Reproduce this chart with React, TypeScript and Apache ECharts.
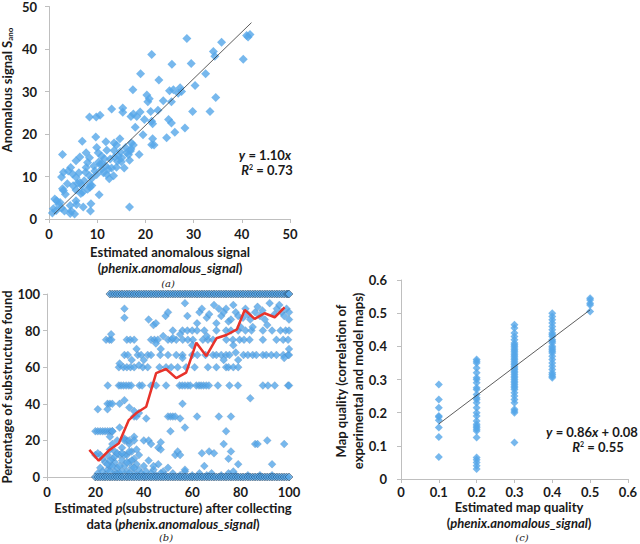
import React, { useEffect, useRef } from "react";
import * as echarts from "echarts";

// Panel (a): estimated vs measured anomalous signal
const aPoints: [number, number][] = [
  [28.6, 42.5], [21.3, 38.7], [35.8, 41.6], [34.1, 39.4], [34.4, 38.3], [41.0, 43.2], [41.7, 43.4], [41.3, 42.8],
  [40.3, 37.6], [34.6, 28.6], [33.4, 25.3], [29.8, 25.3], [29.5, 36.6], [25.5, 36.4], [19.0, 34.2], [22.8, 32.7],
  [32.5, 34.2], [30.3, 31.4], [27.2, 30.9], [25.8, 30.4], [25.0, 30.2], [27.5, 30.0], [17.4, 30.4], [20.3, 29.2],
  [20.8, 28.3], [20.5, 27.6], [23.7, 27.8], [25.4, 27.6], [13.0, 25.9], [15.3, 26.1], [15.3, 25.1], [21.1, 25.3],
  [17.5, 24.7], [17.0, 24.1], [18.2, 24.1], [18.9, 25.2], [19.8, 23.4], [21.3, 23.0], [21.5, 22.4], [8.4, 24.0],
  [9.8, 24.0], [10.6, 24.4], [24.8, 23.4], [25.4, 22.6], [26.1, 20.4], [28.2, 21.4], [17.9, 21.6], [24.4, 19.1],
  [21.5, 18.9], [21.3, 17.5], [21.8, 17.4], [14.7, 18.9], [13.5, 17.9], [14.0, 17.4], [17.1, 17.9], [17.0, 16.5],
  [15.9, 16.8], [16.1, 15.6], [6.9, 18.3], [9.7, 19.3], [11.8, 18.2], [13.5, 16.1], [18.7, 15.2], [16.5, 15.1],
  [16.7, 13.8], [16.9, 16.0], [2.8, 15.2], [14.4, 14.8], [15.1, 14.4], [12.7, 14.1], [14.2, 13.6], [11.8, 12.5],
  [6.4, 14.6], [8.4, 14.4], [8.0, 13.3], [9.9, 16.8], [10.2, 15.6], [10.9, 14.8], [7.7, 15.6], [5.6, 13.7],
  [7.7, 12.1], [9.3, 12.5], [10.6, 12.9], [10.9, 11.7], [11.3, 10.9], [12.0, 10.5], [12.3, 11.7], [9.5, 11.3],
  [9.9, 10.5], [8.4, 10.2], [8.9, 9.6], [4.5, 12.1], [4.0, 11.3], [3.0, 11.0], [2.6, 9.9], [4.9, 10.6],
  [5.6, 9.8], [6.4, 8.6], [7.3, 9.0], [5.9, 8.4], [5.0, 7.8], [5.6, 6.8], [2.8, 7.1], [3.0, 6.7], [7.0, 6.3],
  [8.5, 7.5], [8.9, 7.9], [10.4, 5.7], [8.5, 8.1], [6.8, 7.8], [1.2, 4.7], [1.6, 4.3], [2.3, 3.9], [2.0, 3.5],
  [0.9, 2.4], [1.5, 2.0], [0.7, 1.4], [2.6, 2.6], [5.6, 4.3], [4.6, 1.9], [4.4, 1.3], [5.3, 1.2], [5.7, 3.4],
  [7.1, 2.8], [8.6, 1.9], [8.7, 3.6], [16.7, 2.8], [11.0, 13.0], [12.5, 9.5], [13.4, 10.2], [14.0, 12.2],
  [15.0, 13.5], [13.0, 12.0], [11.5, 14.2], [10.3, 13.4], [12.0, 16.2], [14.8, 15.8], [15.6, 12.0], [13.6, 14.6],
  [3.4, 5.8], [3.8, 8.3], [6.2, 10.9], [7.6, 11.0], [8.0, 7.0], [6.6, 6.0], [4.4, 3.2], [3.2, 1.9], [17.5, 17.4],
  [19.5, 19.8], [22.6, 25.6], [26.8, 29.6]
];
const aFitX = [1, 42];
const aSlope = 1.1;

// Panel (b): estimated p(substructure) vs percentage found
const b100X = [26, 27, 28, 29, 30, 31, 32, 33, 34, 35, 36, 37, 38, 39, 40, 41, 42, 43, 44, 45, 46, 47, 48, 49, 50,
  51, 52, 53, 54, 55, 56, 57, 58, 59, 60, 61, 62, 63, 64, 65, 66, 67, 68, 69, 70, 71, 72, 73, 74, 75, 76, 77, 78,
  79, 80, 81, 82, 83, 84, 85, 86, 87, 88, 89, 90, 91, 92, 93, 94, 95, 96, 97, 98, 99, 99.5, 100];
const b0X = [20, 21, 22, 23, 24, 25, 26, 27, 28, 29, 30, 31, 32, 33, 34, 35, 36, 37, 38, 39, 40, 41, 42, 43, 44, 45,
  46, 47, 48, 49, 50, 51, 52, 53, 54, 55, 56, 57, 58, 59, 60, 61, 62, 63, 64, 65, 66, 67, 68, 69, 70, 71, 72, 73,
  74, 75, 76, 77, 78, 79, 80, 81, 82, 83, 84, 85, 86, 87, 88, 89, 90, 91, 92, 93, 94, 95, 96, 97, 98, 99, 100];
const b50X = [25.1, 29.7, 30.6, 31.6, 32.7, 33.8, 34.8, 38.2, 39.3, 43.0, 45.1, 49.2, 54.8, 55.9, 57.0, 58.2, 59.2,
  61.7, 62.8, 63.7, 64.7, 65.8, 66.9, 70.6, 75.4, 78.9, 89.2, 91.3, 94.1, 99.6, 100];
const b67X = [32, 33.4, 37.5, 38.9, 41.6, 43, 46.8, 50, 53.4, 56, 60, 62.1, 65.5, 68.6, 70, 72, 74, 75.4, 81.2, 83,
  85, 86.5, 89.2, 90.6, 92.7, 94.8, 97.6, 99.6, 100];
const b75X = [24.4, 25.8, 26.6, 33, 34.4, 43, 44.4, 45.8, 50, 51.5, 53.4, 56.1, 58.2, 60.3, 64.4, 66.5, 68.6, 74.1,
  76.8, 79.6, 81.4, 83.7, 89.2, 94.8, 97.6, 99.6];
const b80X = [52, 56, 58, 60, 65, 70, 74, 76, 79, 82, 84.5, 89.2, 93, 96.5, 98.6, 100];
const b60X = [29.7, 31.6, 33, 34.5, 36, 39.6, 41.6, 46.5, 49.2, 51.3, 54, 57.5, 61, 66.5, 70, 74, 75, 77, 79];
const b25X = [20, 21, 22, 23, 24, 25, 26, 27, 51, 74];
const bOther: [number, number][] = [
  [21, 2], [22, 5], [23, 3], [24, 8], [25, 12], [25, 4], [26, 15], [26, 6], [27, 10], [27, 18], [28, 3], [28, 8],
  [28, 14], [29, 20], [29, 5], [30, 12], [30, 2], [31, 9], [31, 16], [32, 6], [32, 21], [33, 3], [33, 12], [34, 8],
  [34, 18], [35, 5], [35, 14], [36, 2], [36, 10], [37, 7], [38, 4], [38, 12], [39, 2], [40, 6], [42, 9], [44, 4],
  [46, 7], [48, 3], [50, 5], [26, 22], [27, 25], [30, 27], [33, 20], [36, 22], [28, 1], [29, 1.5], [26, 3], [27, 6],
  [30, 6], [31, 3], [32, 12], [34, 2], [35, 9], [37, 1], [24, 1], [25, 7], [23, 10], [22, 12], [21, 13], [20, 12],
  [26, 9], [28, 11], [29, 13], [31, 13], [33, 8], [34, 14], [36, 5], [37, 15], [40, 1], [41, 3], [43, 2], [45, 1],
  [47, 2], [49, 1], [52, 2], [55, 1], [57, 3], [60, 1], [63, 2], [66, 1], [68, 2], [72, 1], [75, 2], [78, 1],
  [83, 1], [88, 1], [32, 20], [34, 20], [36, 20], [40, 20], [42, 20], [47, 19], [86, 18], [87, 18], [91, 20],
  [98, 18], [36, 33], [37, 33], [41, 32], [50, 33], [51, 33], [52, 33], [53, 33], [55, 32], [62, 33], [71, 33],
  [76, 33], [25, 40], [26, 40], [27, 40], [30, 40], [56, 40], [21, 37], [25, 37], [32, 42], [34, 38], [36, 36],
  [38, 35], [44, 6], [43, 18], [46, 16], [47, 15], [53, 12], [54, 14], [55, 12], [57, 27], [57, 4], [64, 13],
  [65, 6], [67, 14], [69, 13], [73, 18], [75, 10], [76, 14], [77, 3], [79, 7], [84, 43], [93, 7], [93, 1],
  [26.5, 78], [30, 62], [32, 92], [32, 87], [36, 75], [37, 70], [42, 86], [44, 83], [45, 84], [47, 70], [49, 88],
  [50, 90], [52, 76], [55, 78], [57, 95], [58, 88], [60, 72], [62, 84], [63, 90], [64, 92], [66, 87], [67, 89],
  [69, 94], [70, 84], [71, 92], [72, 88], [73, 90], [74, 92], [75, 85], [76, 86], [77, 94], [78, 90], [79, 88],
  [80, 82], [81, 87], [82, 92], [83, 89], [84, 86], [85, 82], [86, 90], [87, 93], [88, 88], [89, 91], [90, 86],
  [91, 83], [92, 95], [94, 89], [95, 92], [96, 94], [97, 90], [98, 88], [99, 92], [100, 90], [100, 86], [100, 70],
  [98, 65], [77, 72], [78, 68], [79, 64], [73, 64], [66, 77], [62, 80], [56, 65], [48, 77], [45, 73], [40, 64],
  [38, 61], [35, 64]
];
const bMeanX = [17.5, 21.4, 25.8, 29.7, 33.8, 36.8, 41.0, 45.1, 49.2, 53.4, 57.5, 61.7, 65.8, 70.0, 74.1, 78.5,
  81.7, 85.8, 89.9, 94.1, 98.2];
const bMeanY = [14.8, 8.9, 14.8, 18.4, 31.1, 34.8, 38.4, 56.8, 59.0, 54.0, 57.0, 73.4, 66.1, 75.8, 77.6, 80.7,
  91.3, 86.4, 89.5, 87.3, 92.7];

// Panel (c): estimated vs actual map quality
const cY01 = [0.285, 0.24, 0.215, 0.19, 0.187, 0.177, 0.155, 0.127, 0.066];
const cY02 = [0.36, 0.355, 0.35, 0.335, 0.32, 0.305, 0.3, 0.29, 0.275, 0.27, 0.255, 0.245, 0.24, 0.23, 0.215, 0.2,
  0.19, 0.175, 0.165, 0.16, 0.155, 0.15, 0.145, 0.125, 0.065, 0.058, 0.05, 0.04, 0.03];
const cY03 = [0.465, 0.455, 0.44, 0.43, 0.42, 0.41, 0.405, 0.4, 0.395, 0.39, 0.385, 0.38, 0.375, 0.37, 0.365, 0.36,
  0.355, 0.35, 0.345, 0.34, 0.335, 0.33, 0.325, 0.32, 0.315, 0.31, 0.305, 0.3, 0.295, 0.29, 0.285, 0.28, 0.275,
  0.27, 0.26, 0.25, 0.24, 0.23, 0.21, 0.205, 0.2, 0.11];
const cY04 = [0.5, 0.49, 0.48, 0.47, 0.46, 0.45, 0.44, 0.435, 0.43, 0.42, 0.415, 0.41, 0.4, 0.395, 0.39, 0.385,
  0.38, 0.37, 0.36, 0.35, 0.34, 0.33, 0.32, 0.315, 0.31, 0.305];
const cY05 = [0.545, 0.54, 0.53, 0.525, 0.505];
const cFitX = [0.1, 0.5];
const cSlope = 0.86;
const cIntercept = 0.08;

const BLUE = "#55a6e8";
const FONT = "Lato, 'Open Sans', sans-serif";
const INK = "#1a1a1a";

export default function App() {
  const ref = useRef<HTMLDivElement>(null);
  useEffect(() => {
    if (!ref.current) return;
    const chart = echarts.init(ref.current, undefined, { renderer: "svg" });

    const axisCommon = (min: number, max: number, interval: number, gridIndex: number, margin = 8) => ({
      type: "value" as const,
      gridIndex,
      min,
      max,
      interval,
      splitLine: { show: false },
      axisLine: { show: true, lineStyle: { color: "#bfbfbf", width: 1 } },
      axisTick: { show: true, length: 4, lineStyle: { color: "#bfbfbf" } },
      axisLabel: { fontFamily: FONT, fontWeight: "bold" as const, fontSize: 13, color: INK, margin },
    });

    const bRows: [number, number][] = [
      ...b100X.map((x) => [x, 100] as [number, number]),
      ...b0X.map((x) => [x, 0] as [number, number]),
    ];
    const bScatter: [number, number][] = [
      ...b50X.map((x) => [x, 50] as [number, number]),
      ...b67X.map((x) => [x, 66.7] as [number, number]),
      ...b75X.map((x) => [x, 75] as [number, number]),
      ...b80X.map((x) => [x, 80] as [number, number]),
      ...b60X.map((x) => [x, 60] as [number, number]),
      ...b25X.map((x) => [x, 25] as [number, number]),
      ...bOther,
    ];
    const cScatter: [number, number][] = [
      ...cY01.map((y) => [0.1, y] as [number, number]),
      ...cY02.map((y) => [0.2, y] as [number, number]),
      ...cY03.map((y) => [0.3, y] as [number, number]),
      ...cY04.map((y) => [0.4, y] as [number, number]),
      ...cY05.map((y) => [0.5, y] as [number, number]),
    ];

    const txt = (x: number, y: number, text: string, extra: any = {}, styleExtra: any = {}) => ({
      type: "text",
      x,
      y,
      ...extra,
      style: {
        text,
        fill: INK,
        fontFamily: FONT,
        fontWeight: "bold",
        fontSize: 13,
        textAlign: "center",
        textVerticalAlign: "middle",
        ...styleExtra,
      },
    });
    const rich = {
      i: { fontFamily: FONT, fontWeight: "bold", fontStyle: "italic", fontSize: 13, fill: INK },
      sup: { fontFamily: FONT, fontWeight: "bold", fontSize: 7, fill: INK, verticalAlign: "top", lineHeight: 8 },
    };
    const twoLine = (lh: number) => ({
      lineHeight: lh,
      rich: {
        n: { fontFamily: FONT, fontWeight: "bold", fontSize: 13, fill: INK, lineHeight: lh },
        i: { fontFamily: FONT, fontWeight: "bold", fontStyle: "italic", fontSize: 13, fill: INK, lineHeight: lh },
      },
    });
    const capStyle = { fontFamily: "'DejaVu Serif', 'Liberation Serif', serif", fontWeight: "normal", fontStyle: "italic", fontSize: 10 };

    chart.setOption({
      animation: false,
      grid: [
        { left: 49, top: 4, width: 241, height: 215 },
        { left: 47, top: 294, width: 242, height: 183 },
        { left: 401, top: 280, width: 232, height: 199 },
      ],
      xAxis: [axisCommon(0, 50, 10, 0), axisCommon(0, 100, 20, 1, 8), axisCommon(0, 0.6, 0.1, 2, 6)],
      yAxis: [axisCommon(0, 50, 10, 0, 12), axisCommon(0, 100, 20, 1, 7), axisCommon(0, 0.6, 0.1, 2, 14)],
      series: [
        {
          type: "scatter", xAxisIndex: 0, yAxisIndex: 0, symbol: "diamond", symbolSize: 9,
          itemStyle: { color: BLUE }, data: aPoints,
        },
        {
          type: "line", xAxisIndex: 0, yAxisIndex: 0, symbol: "none", z: 5,
          lineStyle: { color: "#333", width: 0.8 }, data: aFitX.map((x) => [x, aSlope * x]),
        },
        {
          type: "scatter", xAxisIndex: 1, yAxisIndex: 1, symbol: "diamond", symbolSize: 8,
          itemStyle: { color: BLUE, borderColor: "rgba(40,70,110,0.3)", borderWidth: 0.5 }, data: bScatter,
        },
        {
          type: "scatter", xAxisIndex: 1, yAxisIndex: 1, symbol: "diamond", symbolSize: 8,
          itemStyle: { color: BLUE, borderColor: "rgba(20,35,55,0.75)", borderWidth: 0.7 }, data: bRows,
        },
        {
          type: "line", xAxisIndex: 1, yAxisIndex: 1, symbol: "none", z: 5,
          lineStyle: { color: "#e8322a", width: 2.5 }, data: bMeanX.map((x, i) => [x, bMeanY[i]]),
        },
        {
          type: "scatter", xAxisIndex: 2, yAxisIndex: 2, symbol: "diamond", symbolSize: 8,
          itemStyle: { color: BLUE }, data: cScatter,
        },
        {
          type: "line", xAxisIndex: 2, yAxisIndex: 2, symbol: "none", z: 5,
          lineStyle: { color: "#333", width: 0.8 }, data: cFitX.map((x) => [x, cSlope * x + cIntercept]),
        },
      ],
      graphic: [
        // Panel (a)
        txt(7, 90, "Anomalous signal S{sub|ano}", { rotation: Math.PI / 2 }, {
          rich: { sub: { fontFamily: FONT, fontWeight: "bold", fontSize: 8, fill: INK, padding: [6, 0, 0, 0] } },
        }),
        txt(170, 259.5, "{n|Estimated anomalous signal}\n{n|(}{i|phenix.anomalous_signal}{n|)}", {}, twoLine(16)),
        txt(168, 283, "(a)", {}, capStyle),
        txt(265, 155, "{i|y} = 1.10{i|x}", {}, { rich }),
        txt(267, 170, "{i|R}{sup|2} = 0.73", {}, { rich }),
        // Panel (b)
        txt(7, 387, "Percentage of substructure found", { rotation: Math.PI / 2 }),
        txt(173, 515.5, "{n|Estimated }{i|p}{n|(substructure) after collecting}\n{n|data (}{i|phenix.anomalous_signal}{n|)}", {}, twoLine(16)),
        txt(166, 537.5, "(b)", {}, capStyle),
        // Panel (c)
        txt(349.5, 381, "{n|Map quality (correlation of}\n{n|experimental and model maps)}", { rotation: Math.PI / 2 }, twoLine(17)),
        txt(519, 515, "{n|Estimated map quality}\n{n|(}{i|phenix.anomalous_signal}{n|)}", {}, twoLine(16)),
        txt(522, 537.5, "(c)", {}, capStyle),
        txt(592, 432, "{i|y} = 0.86{i|x} + 0.08", {}, { rich }),
        txt(598, 447, "{i|R}{sup|2} = 0.55", {}, { rich }),
      ],
    });
    return () => chart.dispose();
  }, []);
  return <div ref={ref} style={{ width: 640, height: 544, position: "absolute", left: 0, top: 0 }} />;
}
